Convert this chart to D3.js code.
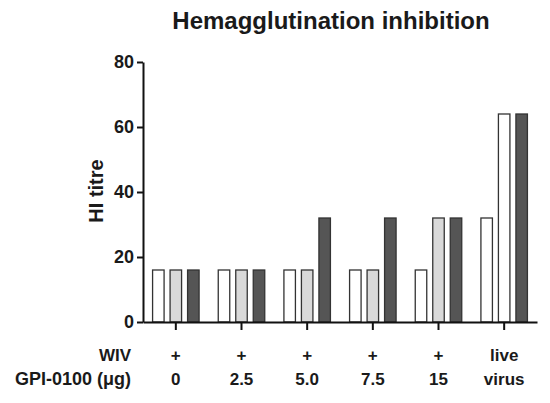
<!DOCTYPE html>
<html><head><meta charset="utf-8">
<script src="https://cdn.jsdelivr.net/npm/d3@7"></script>
<style>
html,body{margin:0;padding:0;background:#fff;}
text{font-family:"Liberation Sans",Arial,sans-serif;font-weight:bold;fill:#1a1a1a;}
</style></head>
<body>
<svg id="c" width="550" height="403"></svg>
<script>
// ---- data ----
const groups = ["0", "2.5", "5.0", "7.5", "15", "live virus"];
const wivLabels = ["+", "+", "+", "+", "+", "live"];
const gpiLabels = ["0", "2.5", "5.0", "7.5", "15", "virus"];
const seriesA = [16, 16, 16, 16, 16, 32];
const seriesB = [16, 16, 16, 16, 32, 64];
const seriesC = [16, 16, 32, 32, 32, 64];
const yTicks = [0, 20, 40, 60, 80];

const fillA = ["#ffffff", "#ffffff", "#ffffff", "#ffffff", "#ffffff", "#ffffff"];
const fillB = ["#d9d9d9", "#d9d9d9", "#d9d9d9", "#d9d9d9", "#d9d9d9", "#ffffff"];
const fillC = ["#555555", "#555555", "#555555", "#555555", "#555555", "#555555"];

const svg = d3.select("#c");
const x0 = 143, x1 = 537, yTop = 62, yBot = 322;

const x = d3.scaleBand().domain(groups).range([x0, x1]).padding(0);
const y = d3.scaleLinear().domain([0, 80]).range([yBot, yTop]);

const bw = 11.5;
const offsets = [-17.5, 0, 17.5];

const seriesList = [
  {vals: seriesA, fills: fillA},
  {vals: seriesB, fills: fillB},
  {vals: seriesC, fills: fillC}
];

seriesList.forEach((s, si) => {
  svg.append("g").selectAll("rect").data(groups).join("rect")
    .attr("x", (g) => x(g) + x.bandwidth() / 2 + offsets[si] - bw / 2)
    .attr("y", (g, i) => y(s.vals[i]))
    .attr("width", bw)
    .attr("height", (g, i) => y(0) - y(s.vals[i]))
    .attr("fill", (g, i) => s.fills[i])
    .attr("stroke", "#333")
    .attr("stroke-width", 1.3);
});

// y axis
const ya = svg.append("g").attr("transform", `translate(${x0},0)`)
  .call(d3.axisLeft(y).tickValues(yTicks).tickSize(6).tickPadding(3).tickSizeOuter(0));
ya.select(".domain").attr("stroke", "#111").attr("stroke-width", 2);
ya.selectAll(".tick line").attr("stroke", "#111").attr("stroke-width", 2);
ya.selectAll(".tick text").style("font-size", "18px").style("font-family", "Liberation Sans, Arial").style("font-weight", "bold").attr("fill", "#1a1a1a");

// x axis
const xa = svg.append("g").attr("transform", `translate(0,${yBot})`)
  .call(d3.axisBottom(x).tickSize(8).tickSizeOuter(0).tickFormat(""));
xa.select(".domain").attr("stroke", "#111").attr("stroke-width", 2);
xa.selectAll(".tick line").attr("stroke", "#111").attr("stroke-width", 2);

// category labels
svg.append("g").selectAll("text").data(groups).join("text")
  .attr("x", (g) => x(g) + x.bandwidth() / 2)
  .attr("y", 361)
  .attr("text-anchor", "middle")
  .style("font-size", "17px")
  .text((g, i) => wivLabels[i]);
svg.append("g").selectAll("text").data(groups).join("text")
  .attr("x", (g) => x(g) + x.bandwidth() / 2)
  .attr("y", 385)
  .attr("text-anchor", "middle")
  .style("font-size", "17px")
  .text((g, i) => gpiLabels[i]);

svg.append("text").attr("x", 131).attr("y", 361).attr("text-anchor", "end")
  .style("font-size", "17px").text("WIV");
svg.append("text").attr("x", 131).attr("y", 385).attr("text-anchor", "end")
  .style("font-size", "18px").text("GPI-0100 (\u03BCg)");

// y label
svg.append("text").attr("transform", "translate(103,191) rotate(-90)")
  .attr("text-anchor", "middle").style("font-size", "20px").text("HI titre");

// title
svg.append("text").attr("x", 331).attr("y", 29).attr("text-anchor", "middle")
  .style("font-size", "24px").text("Hemagglutination inhibition");
</script>
</body></html>
